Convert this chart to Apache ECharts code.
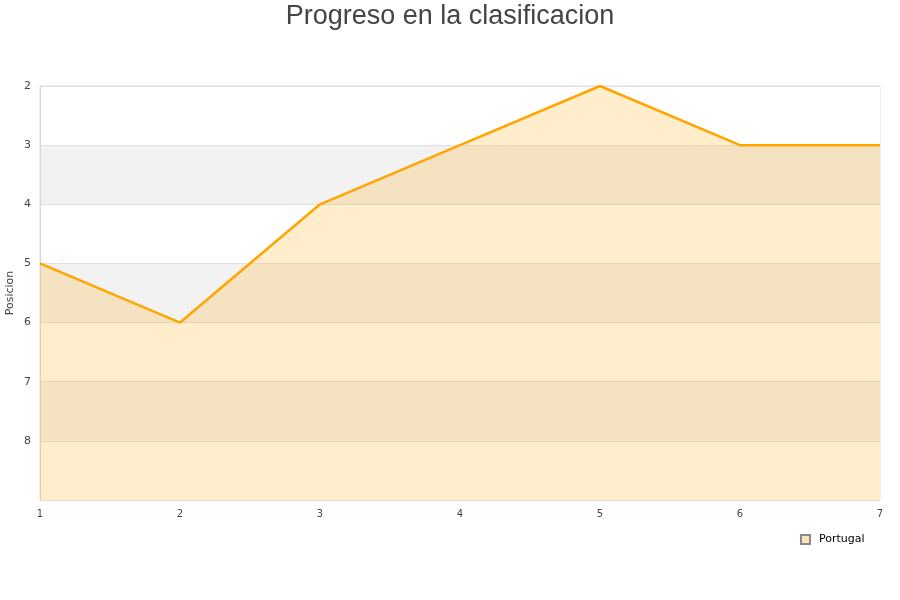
<!DOCTYPE html>
<html><head><meta charset="utf-8">
<script src="https://cdn.jsdelivr.net/npm/echarts@6/dist/echarts.min.js"></script>
<style>html,body{margin:0;padding:0;background:#fff}#c{width:900px;height:600px}</style>
</head><body><div id="c"></div>
<script>
var jornadas = ['1','2','3','4','5','6','7'];
var posiciones = [5, 6, 4, 3, 2, 3, 3];
var serieNombre = 'Portugal';
var titulo = 'Progreso en la clasificacion';

var chart = echarts.init(document.getElementById('c'), null, {renderer: 'canvas'});
chart.setOption({
  animation: false,
  backgroundColor: '#fff',
  title: {text: titulo, left: 'center', top: -2,
    textStyle: {fontFamily: 'Liberation Sans', fontSize: 27, fontWeight: 'normal', color: '#444'}},
  grid: {left: 40, right: 20, top: 86, bottom: 100, show: true, borderColor: '#dddddd', borderWidth: 1,
    backgroundColor: 'transparent', containLabel: false, outerBoundsMode: 'none'},
  legend: {data: [{name: serieNombre, icon: 'rect'}], left: 795, top: 529, itemWidth: 9, itemHeight: 9, itemGap: 5,
    textStyle: {fontFamily: 'DejaVu Sans', fontSize: 11, color: '#000', padding: [0, 0, 0, 4]}},
  xAxis: {type: 'category', data: jornadas, boundaryGap: false,
    axisLine: {show: false}, axisTick: {show: false},
    axisLabel: {fontFamily: 'DejaVu Sans', fontSize: 10, color: '#444', margin: 9, showMaxLabel: true},
    splitLine: {show: false}},
  yAxis: {type: 'value', inverse: true, min: 2, max: 9, interval: 1,
    name: 'Posicion', nameLocation: 'middle', nameGap: 24, nameRotate: 90, nameMoveOverlap: false,
    nameTextStyle: {fontFamily: 'DejaVu Sans', fontSize: 11, color: '#444'},
    axisLine: {show: true, lineStyle: {color: '#d8d8d8', width: 1}}, axisTick: {show: false},
    axisLabel: {fontFamily: 'DejaVu Sans', fontSize: 11, color: '#444', margin: 9,
      formatter: function(v){ return v === 9 ? '' : String(v); }},
    splitLine: {show: true, lineStyle: {color: '#e0e0e0', width: 1}},
    splitArea: {show: true, areaStyle: {color: ['#ffffff', '#f2f2f2']}}},
  series: [{
    name: serieNombre, type: 'line', data: posiciones, showSymbol: false, symbol: 'none',
    lineStyle: {color: '#FFA500', width: 2.5},
    itemStyle: {color: '#FFE3B5', borderColor: '#888888', borderWidth: 1},
    areaStyle: {color: '#FFA500', opacity: 0.2, origin: 'end'}
  }]
});
</script></body></html>
